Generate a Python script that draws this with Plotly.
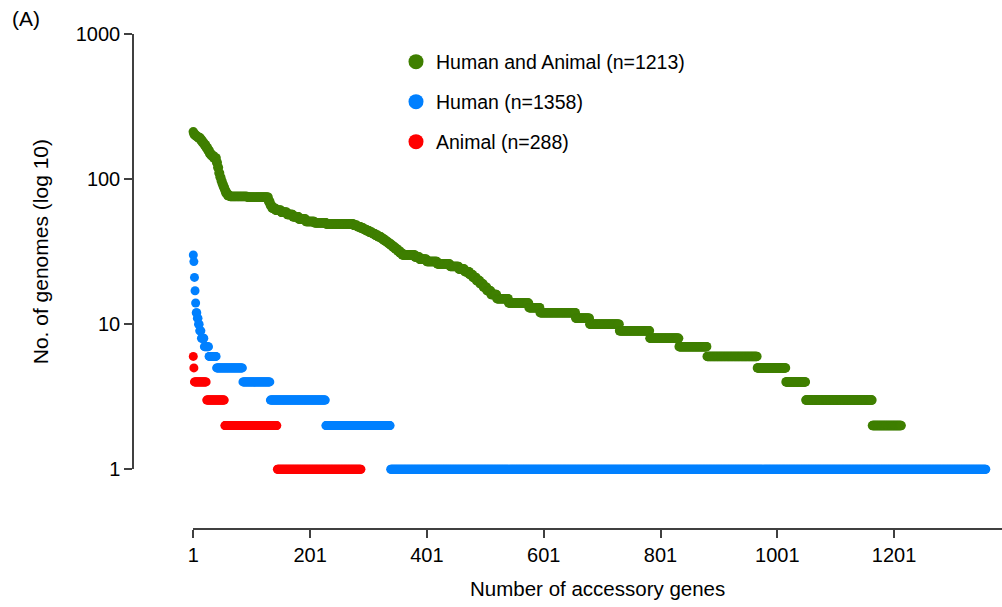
import numpy as np
import plotly.graph_objects as go

# ---------------- data (run-length: value, number of genes with that value) -----------
ha_values = [212, 205, 200, 196, 192, 185, 178, 172, 165, 158, 150, 145, 140, 130, 120,
             110, 103, 97, 92, 88, 84, 80, 77, 76, 75, 70, 66, 63, 61, 59, 57, 55, 53,
             51, 50, 49, 48, 47, 46, 45, 44, 43, 42, 41, 40, 39, 38, 37, 36, 35, 34, 33,
             32, 31, 30, 29, 28, 27, 26, 25, 24, 23, 22, 21, 20, 19, 18, 17, 16, 15, 14,
             13, 12, 11, 10, 9, 8, 7, 6, 5, 4, 3, 2]
ha_counts = [1, 2, 3, 3, 4, 3, 3, 3, 3, 3, 3, 4, 5, 2, 2,
             2, 2, 2, 2, 2, 2, 3, 4, 30, 36, 3, 3, 6, 10, 10, 10, 10, 12,
             15, 20, 47, 6, 6, 5, 5, 5, 5, 5, 5, 5, 4, 4, 4, 4, 4, 4, 4,
             4, 4, 22, 8, 12, 18, 22, 15, 10, 8, 6, 6, 6, 6, 6, 7, 10, 20, 35,
             19, 61, 24, 51, 52, 50, 48, 86, 49, 34, 114, 50]

human_values = [30, 27, 21, 17, 14, 12, 11, 10, 9, 8, 7, 6, 5, 4, 3, 2, 1]
human_counts = [1, 1, 1, 1, 1, 2, 2, 2, 3, 5, 8, 13, 45, 47, 95, 111, 1020]

animal_values = [6, 5, 4, 3, 2, 1]
animal_counts = [1, 1, 21, 31, 90, 144]

series_names = ["Human and Animal (n=1213)", "Human (n=1358)", "Animal (n=288)"]
series_colors = ["#3F7F00", "#0080FF", "#FF0000"]

x_tickvals = [1, 201, 401, 601, 801, 1001, 1201]
y_tickvals = [1, 10, 100, 1000]
y_ticktext = ["1", "10", "100", "1000"]

FONT = "Arial, 'Liberation Sans', sans-serif"
AXIS_COLOR = "#404040"

# ---------------- geometry ----------------
W, H = 1002, 607
ML, MR, MT, MB = 133, 0, 34, 78
plot_w = W - ML - MR
plot_h = H - MT - MB
x_one_px = 60.3          # px from left edge of plot to x = 1
px_per_unit = 0.584
x_lo = 1 - x_one_px / px_per_unit
x_hi = 1 + (plot_w - x_one_px) / px_per_unit
y_one_px = 59.7          # px from bottom of plot to y = 1
px_per_dec = plot_h / (3 + y_one_px / 145.0)
y_lo = -y_one_px / px_per_dec

fig = go.Figure()

all_series = [(ha_values, ha_counts), (human_values, human_counts), (animal_values, animal_counts)]
for (vals, cnts), name, col in zip(all_series, series_names, series_colors):
    y = [float(v) for v in np.repeat(vals, cnts)]
    x = list(range(1, len(y) + 1))
    fig.add_trace(go.Scatter(
        x=x, y=y, mode="markers", name=name, showlegend=False,
        marker=dict(color=col, size=9.5 if col == "#3F7F00" else 9, line=dict(width=0)),
        cliponaxis=False, hoverinfo="x+y",
    ))

# legend-only traces (bigger dots), each in its own legend for row spacing
legend_ids = ["legend", "legend2", "legend3"]
for name, col, lid in zip(series_names, series_colors, legend_ids):
    fig.add_trace(go.Scatter(
        x=[None], y=[None], mode="markers", name=name, legend=lid,
        marker=dict(color=col, size=15, line=dict(width=0)), showlegend=True,
    ))

# dummy trace to create the display-axes subplot
fig.add_trace(go.Scatter(x=[None], y=[None], xaxis="x2", yaxis="y2",
                         showlegend=False, hoverinfo="skip"))

legend_common = dict(font=dict(family=FONT, size=19.5, color="black"),
                     bgcolor="rgba(0,0,0,0)", xanchor="left", yanchor="middle",
                     itemsizing="trace", borderwidth=0)
leg_x = (396 - ML) / plot_w
legend_rows_px = [62, 102, 142]
legends = {}
for lid, ypx in zip(legend_ids, legend_rows_px):
    legends[lid] = dict(legend_common, x=leg_x, y=1 - (ypx - MT) / plot_h)

fig.update_layout(
    width=W, height=H,
    margin=dict(l=ML, r=MR, t=MT, b=MB, autoexpand=False),
    paper_bgcolor="white", plot_bgcolor="rgba(0,0,0,0)",
    font=dict(family=FONT, size=19, color="black"),
    **legends,
    xaxis=dict(range=[x_lo, x_hi], visible=False, domain=[0, 1]),
    yaxis=dict(type="log", range=[y_lo, 3.0], visible=False, domain=[0, 1]),
    xaxis2=dict(
        domain=[x_one_px / plot_w, 1], range=[1, x_hi], anchor="free", position=0,
        showline=True, linecolor=AXIS_COLOR, linewidth=1.5,
        ticks="outside", ticklen=8, tickwidth=1.5, tickcolor=AXIS_COLOR,
        tickvals=x_tickvals, showgrid=False, zeroline=False,
        tickfont=dict(family=FONT, size=20, color="black"),
        title=dict(text="Number of accessory genes", standoff=16,
                   font=dict(family=FONT, size=20.5, color="black")),
    ),
    yaxis2=dict(
        domain=[y_one_px / plot_h, 1], type="log", range=[0, 3], anchor="free", position=0,
        showline=True, linecolor=AXIS_COLOR, linewidth=1.5,
        ticks="outside", ticklen=8, tickwidth=1.5, tickcolor=AXIS_COLOR,
        tickvals=y_tickvals, ticktext=y_ticktext, showgrid=False, zeroline=False,
        tickfont=dict(family=FONT, size=20, color="black"),
        title=dict(text="No. of genomes (log 10)", standoff=20,
                   font=dict(family=FONT, size=21, color="black")),
    ),
    annotations=[dict(text="(A)", xref="paper", yref="paper",
                      x=(10 - ML) / plot_w, y=1 + (MT - 18) / plot_h,
                      xanchor="left", yanchor="middle", showarrow=False,
                      font=dict(family=FONT, size=21, color="black"))],
)

fig.write_html("out.html")
